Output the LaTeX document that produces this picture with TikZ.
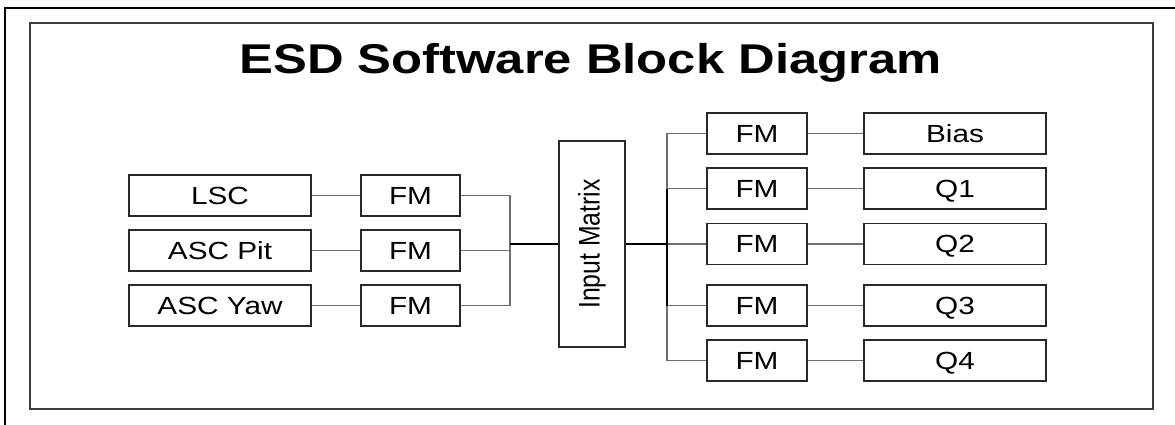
\documentclass[tikz,border=0pt]{standalone}
\usepackage{fontspec}
\setmainfont{Liberation Sans}
\definecolor{boxline}{RGB}{40,40,40}
\definecolor{connline}{RGB}{110,110,110}
\definecolor{frameline}{RGB}{60,60,60}
\begin{document}
\begin{tikzpicture}[x=1pt,y=-1pt,
  blk/.style={draw=boxline,line width=1.1pt,fill=white,inner sep=0pt,
    minimum height=41pt,text height=17.8pt,text depth=0pt,
    font=\fontsize{24.8}{28}\selectfont},
  wide/.style={blk,minimum width=182pt},
  fmbox/.style={blk,minimum width=100pt},
  conn/.style={draw=connline,line width=1.1pt},
  bold/.style={draw=black,line width=1.8pt}]
\useasboundingbox (0,0) rectangle (1175,425);
% frames
\draw[line width=2.2pt] (5,425) -- (5,8) -- (1175,8);
\draw[draw=frameline,line width=1.2pt] (30,23) rectangle (1153,409);
% title
\node[inner sep=0pt,font=\fontsize{41.6}{48}\bfseries\selectfont,text height=29.8pt,text depth=0pt] (title) at (590.5,58.5) {\scalebox{1.22}[1]{ESD Software Block Diagram}};
% left inputs
\node[wide] (lsc) at (220,195.5) {\scalebox{1.2}[1]{LSC}};
\node[wide] (pit) at (220,250.5) {\scalebox{1.2}[1]{ASC Pit}};
\node[wide] (yaw) at (220,305.5) {\scalebox{1.2}[1]{ASC Yaw}};
\node[fmbox,minimum width=99pt] (fm1) at (410.5,195.5) {\scalebox{1.2}[1]{FM}};
\node[fmbox,minimum width=99pt] (fm2) at (410.5,250.5) {\scalebox{1.2}[1]{FM}};
\node[fmbox,minimum width=99pt] (fm3) at (410.5,305.5) {\scalebox{1.2}[1]{FM}};
% input matrix
\node[draw=boxline,line width=1.1pt,inner sep=0pt,minimum width=66pt,minimum height=206pt,
  font=\fontsize{24.8}{28}\selectfont] (im) at (592,244)
  {\scalebox{1.2}[1]{\rotatebox{90}{Input Matrix}}};
% right side
\node[fmbox] (fmb) at (757,133.5) {\scalebox{1.2}[1]{FM}};
\node[fmbox] (fmq1) at (757,188.5) {\scalebox{1.2}[1]{FM}};
\node[fmbox] (fmq2) at (757,244) {\scalebox{1.2}[1]{FM}};
\node[fmbox] (fmq3) at (757,305.5) {\scalebox{1.2}[1]{FM}};
\node[fmbox] (fmq4) at (757,360.5) {\scalebox{1.2}[1]{FM}};
\node[wide] (bias) at (955,133.5) {\scalebox{1.2}[1]{Bias}};
\node[wide] (q1) at (955,188.5) {\scalebox{1.2}[1]{Q1}};
\node[wide] (q2) at (955,244) {\scalebox{1.2}[1]{Q2}};
\node[wide] (q3) at (955,305.5) {\scalebox{1.2}[1]{Q3}};
\node[wide] (q4) at (955,360.5) {\scalebox{1.2}[1]{Q4}};
% junction coordinates
\coordinate (jl) at (510,244);
\coordinate (jr) at (667,244);
% left connectors
\draw[conn] (lsc.east) -- (fm1.west);
\draw[conn] (pit.east) -- (fm2.west);
\draw[conn] (yaw.east) -- (fm3.west);
\draw[conn] (fm1.east) -| (jl);
\draw[conn] (fm3.east) -| (jl);
\draw[conn] (fm2.east) -- (fm2.east -| jl);
\draw[bold] (jl) -- (im.west);
% right connectors
\draw[conn] (fmb.west) -| (jr);
\draw[conn] (fmq4.west) -| (jr);
\draw[conn] (fmq1.west) -- (fmq1.west -| jr);
\draw[conn] (fmq2.west) -- (jr);
\draw[conn] (fmq3.west) -- (fmq3.west -| jr);
\draw[bold] (im.east) -- (jr);
\draw[bold] (fmq1.west -| jr) -- (fmq3.west -| jr);
\draw[conn] (fmb.east) -- (bias.west);
\draw[conn] (fmq1.east) -- (q1.west);
\draw[conn] (fmq2.east) -- (q2.west);
\draw[conn] (fmq3.east) -- (q3.west);
\draw[conn] (fmq4.east) -- (q4.west);
\end{tikzpicture}
\end{document}
